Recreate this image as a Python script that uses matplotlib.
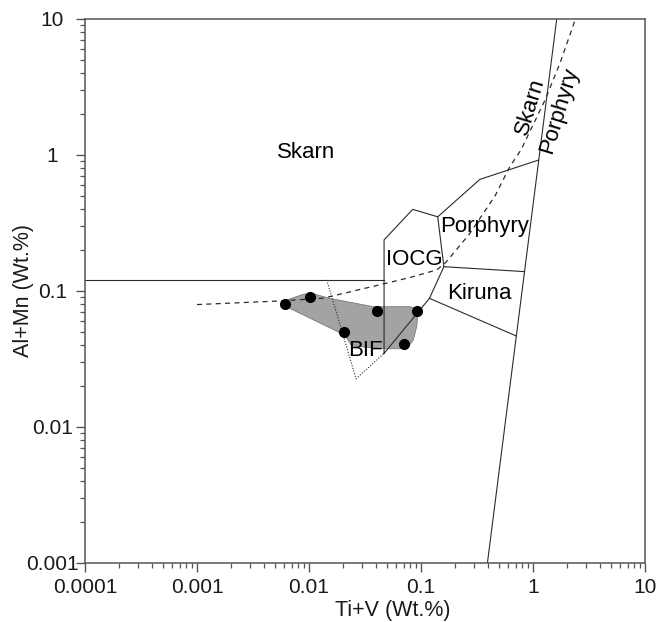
import matplotlib
matplotlib.use("Agg")
import matplotlib.pyplot as plt
from matplotlib.ticker import FixedLocator, NullFormatter, LogLocator

plt.rcParams["font.family"] = ["Liberation Sans", "DejaVu Sans"]

# ---------- field boundaries (Ti+V, Al+Mn in wt.%) ----------
skarn_x = [1e-4, 0.0468]
skarn_y = [0.12, 0.12]

iocg_x = [0.0468, 0.0468, 0.0843, 0.141, 0.160, 0.119, 0.0468]
iocg_y = [0.0346, 0.236, 0.396, 0.349, 0.150, 0.0878, 0.0346]

porph_top_x = [0.141, 0.336, 1.12]
porph_top_y = [0.349, 0.658, 0.912]

porph_kir_x = [0.160, 0.84]
porph_kir_y = [0.150, 0.138]

kiruna_low_x = [0.119, 0.71]
kiruna_low_y = [0.0878, 0.0464]

steep_x = [0.392, 1.63]
steep_y = [0.001, 10]

bif_dot_x = [0.0144, 0.0263, 0.0468]
bif_dot_y = [0.12, 0.0225, 0.0346]

dash_x = [0.001, 0.0055, 0.0134, 0.046, 0.08, 0.138, 0.165, 0.27, 0.46, 0.62, 0.78, 1.28, 1.74, 2.4]
dash_y = [0.079, 0.084, 0.088, 0.112, 0.125, 0.142, 0.16, 0.26, 0.50, 0.815, 1.08, 2.52, 4.69, 10]

# ---------- sample field (grey) and samples ----------
poly_x = [0.0057, 0.0089, 0.0106, 0.0154, 0.0375, 0.0798, 0.0946, 0.0915,
          0.0853, 0.0772, 0.0673, 0.046, 0.0241, 0.0208, 0.0061]
poly_y = [0.0828, 0.094, 0.0955, 0.0877, 0.0762, 0.0762, 0.0729, 0.0543,
          0.0434, 0.0387, 0.0374, 0.0374, 0.0392, 0.0472, 0.0771]

samp_x = [0.0061, 0.0102, 0.0205, 0.0402, 0.0915, 0.0705]
samp_y = [0.0797, 0.0902, 0.0497, 0.0705, 0.0705, 0.0405]

x_ticks = [1e-4, 1e-3, 1e-2, 1e-1, 1, 10]
x_labels = ["0.0001", "0.001", "0.01", "0.1", "1", "10"]
y_ticks = [1e-3, 1e-2, 1e-1, 1, 10]
y_labels = ["0.001", "0.01", "0.1", "1", "10"]

fig = plt.figure(figsize=(6.56, 6.22), dpi=100)
ax = fig.add_axes([85 / 656, 1 - 562.7 / 622, 560 / 656, 544.1 / 622])
ax.set_xscale("log")
ax.set_yscale("log")
ax.set_xlim(1e-4, 10)
ax.set_ylim(1e-3, 10)

line_col = "#2b2b2b"
lw = 0.8

ax.fill(poly_x, poly_y, facecolor="#a3a3a3", edgecolor="#7a7a7a", lw=0.6, zorder=1)

ax.plot(skarn_x, skarn_y, color=line_col, lw=lw, zorder=2)
ax.plot(iocg_x, iocg_y, color=line_col, lw=lw, zorder=2)
ax.plot(porph_top_x, porph_top_y, color=line_col, lw=lw, zorder=2)
ax.plot(porph_kir_x, porph_kir_y, color=line_col, lw=lw, zorder=2)
ax.plot(kiruna_low_x, kiruna_low_y, color=line_col, lw=lw, zorder=2)
ax.plot(steep_x, steep_y, color=line_col, lw=lw, zorder=2)
ax.plot(bif_dot_x, bif_dot_y, color=line_col, lw=0.8, ls=(0, (1, 1.5)), zorder=2)
ax.plot(dash_x, dash_y, color=line_col, lw=0.9, ls=(0, (4, 3.5)), zorder=2)

ax.plot(samp_x, samp_y, "o", color="black", ms=7, zorder=3)

# ---------- field labels ----------
fs = 16
ax.text(0.00933, 1.03, "Skarn", fontsize=fs, ha="center", va="center")
ax.text(0.0866, 0.1706, "IOCG", fontsize=fs, ha="center", va="center")
ax.text(0.367, 0.2985, "Porphyry", fontsize=fs, ha="center", va="center")
ax.text(0.332, 0.0955, "Kiruna", fontsize=fs, ha="center", va="center")
ax.text(0.032, 0.0366, "BIF", fontsize=fs, ha="center", va="center")
ax.text(0.94, 2.25, "Skarn", fontsize=fs, ha="center", va="center", rotation=73)
ax.text(1.71, 2.13, "Porphyry", fontsize=fs, ha="center", va="center", rotation=73)

# ---------- axes styling ----------
ax.xaxis.set_major_locator(FixedLocator(x_ticks))
ax.set_xticklabels(x_labels)
ax.yaxis.set_major_locator(FixedLocator(y_ticks))
ax.set_yticklabels(y_labels)
ax.xaxis.set_minor_locator(LogLocator(base=10, subs=range(2, 10), numticks=20))
ax.yaxis.set_minor_locator(LogLocator(base=10, subs=range(2, 10), numticks=20))
ax.xaxis.set_minor_formatter(NullFormatter())
ax.yaxis.set_minor_formatter(NullFormatter())

spine_col = "#555555"
for s in ax.spines.values():
    s.set_color(spine_col)
    s.set_linewidth(1.1)

ax.tick_params(which="major", direction="out", length=6.5, width=1.0,
               color=spine_col, labelsize=15, labelcolor="#1a1a1a")
ax.tick_params(which="minor", direction="out", length=3.6, width=0.9, color=spine_col)
ax.tick_params(axis="x", which="major", pad=4.5)
ax.tick_params(axis="y", which="major", pad=17)
for lbl in ax.get_yticklabels():
    lbl.set_horizontalalignment("center")

ax.set_xlabel("Ti+V (Wt.%)", fontsize=15.5, color="#1a1a1a", va="center")
ax.xaxis.set_label_coords(0.549, -0.087)
ax.set_ylabel("Al+Mn (Wt.%)", fontsize=15.5, color="#1a1a1a", va="center")
ax.yaxis.set_label_coords(-0.11, 0.5)

fig.savefig("out.png", dpi=100)
